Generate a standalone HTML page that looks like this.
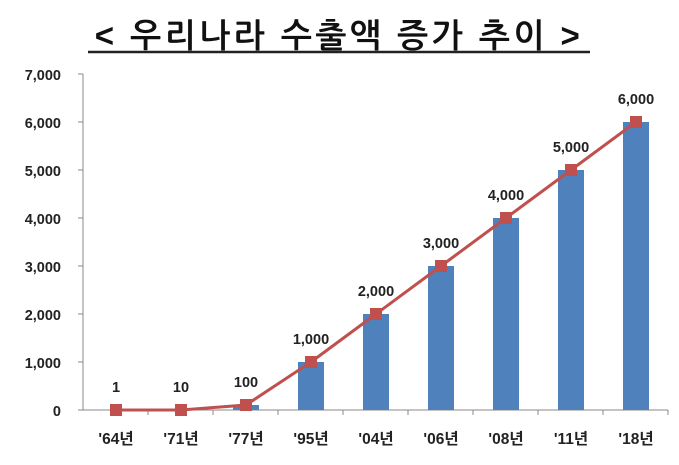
<!DOCTYPE html>
<html><head><meta charset="utf-8"><style>
html,body{margin:0;padding:0;background:#fff;}
body{width:679px;height:460px;overflow:hidden;}
text{font-family:"Liberation Sans","Noto Sans CJK KR",sans-serif;font-weight:bold;}
</style></head><body>
<svg width="679" height="460" viewBox="0 0 679 460" xmlns="http://www.w3.org/2000/svg">
<text x="339" y="47" text-anchor="middle" font-size="33" fill="#111" letter-spacing="3.5" style="font-family:'Liberation Sans','NanumGothic','Noto Sans CJK KR',sans-serif">&lt; 우리나라 수출액 증가 추이 &gt;</text>
<line x1="88" y1="52" x2="590" y2="52" stroke="#222" stroke-width="2.5"/>
<g font-size="14.5" fill="#222" text-anchor="end">
<text x="61" y="80">7,000</text>
<text x="61" y="128">6,000</text>
<text x="61" y="176">5,000</text>
<text x="61" y="224">4,000</text>
<text x="61" y="272">3,000</text>
<text x="61" y="320">2,000</text>
<text x="61" y="368">1,000</text>
<text x="61" y="416">0</text>
</g>
<g stroke="#888" stroke-width="1">
<line x1="83" y1="74" x2="83" y2="410"/>
<line x1="83" y1="410" x2="668" y2="410"/>
<line x1="78" y1="74" x2="83" y2="74"/><line x1="78" y1="122" x2="83" y2="122"/>
<line x1="78" y1="170" x2="83" y2="170"/><line x1="78" y1="218" x2="83" y2="218"/>
<line x1="78" y1="266" x2="83" y2="266"/><line x1="78" y1="314" x2="83" y2="314"/>
<line x1="78" y1="362" x2="83" y2="362"/><line x1="78" y1="410" x2="83" y2="410"/>
<line x1="148" y1="410" x2="148" y2="415"/><line x1="213" y1="410" x2="213" y2="415"/>
<line x1="278" y1="410" x2="278" y2="415"/><line x1="343" y1="410" x2="343" y2="415"/>
<line x1="408" y1="410" x2="408" y2="415"/><line x1="473" y1="410" x2="473" y2="415"/>
<line x1="538" y1="410" x2="538" y2="415"/><line x1="603" y1="410" x2="603" y2="415"/>
<line x1="668" y1="410" x2="668" y2="415"/>
</g>
<g fill="#4f81bd">
<rect x="233" y="405" width="26" height="5"/>
<rect x="298" y="362" width="26" height="48"/>
<rect x="363" y="314" width="26" height="96"/>
<rect x="428" y="266" width="26" height="144"/>
<rect x="493" y="218" width="26" height="192"/>
<rect x="558" y="170" width="26" height="240"/>
<rect x="623" y="122" width="26" height="288"/>
</g>
<polyline points="116,410 181,410 246,405 311,362 376,314 441,266 506,218 571,170 636,122" fill="none" stroke="#c0504d" stroke-width="3"/>
<g fill="#c0504d">
<rect x="110" y="404" width="12" height="12"/><rect x="175" y="404" width="12" height="12"/>
<rect x="240" y="399" width="12" height="12"/><rect x="305" y="356" width="12" height="12"/>
<rect x="370" y="308" width="12" height="12"/><rect x="435" y="260" width="12" height="12"/>
<rect x="500" y="212" width="12" height="12"/><rect x="565" y="164" width="12" height="12"/>
<rect x="630" y="116" width="12" height="12"/>
</g>
<g font-size="14.5" fill="#222" text-anchor="middle">
<text x="116" y="392">1</text><text x="181" y="392">10</text><text x="246" y="387">100</text>
<text x="311" y="344">1,000</text><text x="376" y="296">2,000</text><text x="441" y="248">3,000</text>
<text x="506" y="200">4,000</text><text x="571" y="152">5,000</text><text x="636" y="104">6,000</text>
</g>
<g font-size="15.5" fill="#222" text-anchor="middle" style="font-family:'Liberation Sans','NanumGothic','Noto Sans CJK KR',sans-serif">
<text x="116" y="444">'64년</text><text x="181" y="444">'71년</text><text x="246" y="444">'77년</text>
<text x="311" y="444">'95년</text><text x="376" y="444">'04년</text><text x="441" y="444">'06년</text>
<text x="506" y="444">'08년</text><text x="571" y="444">'11년</text><text x="636" y="444">'18년</text>
</g>
</svg>
</body></html>
